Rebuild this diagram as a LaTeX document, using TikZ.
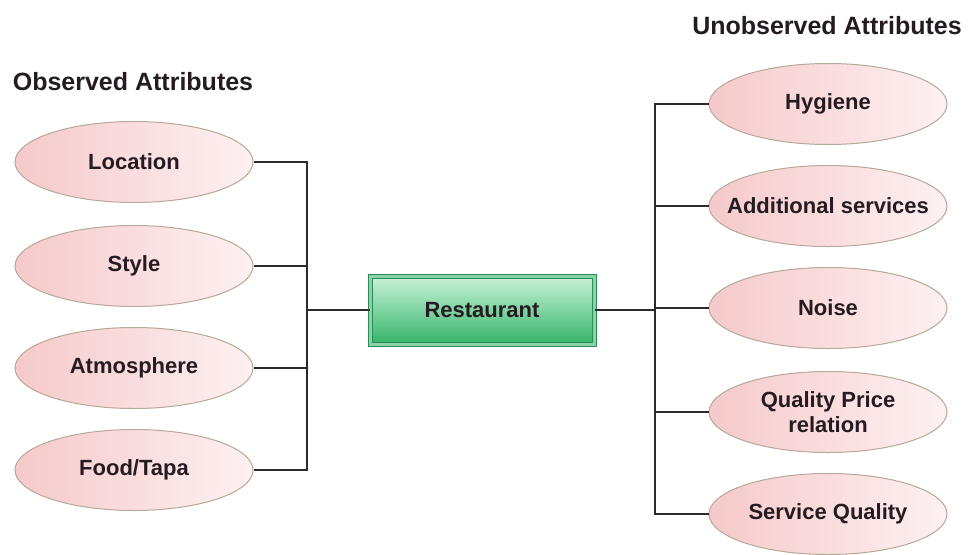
\documentclass[tikz,border=0pt]{standalone}
\usepackage{fontspec}
\setmainfont{Liberation Sans}
\usetikzlibrary{shapes.geometric}
\definecolor{attrline}{HTML}{B8A898}
\definecolor{attrleft}{HTML}{F6C9CB}
\definecolor{attrright}{HTML}{FDF1F1}
\definecolor{boxline}{HTML}{2E8B57}
\definecolor{boxtop}{HTML}{C9F2DA}
\definecolor{boxbot}{HTML}{35B56A}
\definecolor{wire}{HTML}{2B2B2B}
\definecolor{ink}{HTML}{251C22}

\begin{document}
\begin{tikzpicture}[x=1pt,y=-1pt]
\tikzstyle{every node}+=[inner sep=0pt, text=ink, font=\bfseries\fontsize{22}{25}\selectfont]
\tikzstyle{attr}=[ellipse, draw=attrline, line width=1pt, left color=attrleft, right color=attrright, minimum width=238pt, minimum height=81pt, align=center]
\tikzstyle{title}=[font=\bfseries\fontsize{25}{28}\selectfont]
\tikzstyle{link}=[draw=wire, line width=1.4pt]
\useasboundingbox (0,0) rectangle (968,554);
\node[title] (obs) at (133,82) {Observed Attributes};
\node[title] (unobs) at (827,26) {Unobserved Attributes};
\node[attr] (loc) at (134,162) {Location};
\node[attr] (sty) at (134,266) {Style};
\node[attr] (atm) at (134,368) {Atmosphere};
\node[attr] (food) at (134,470) {Food/Tapa};
\node[draw=boxline, line width=1pt, double=boxbot!60!white, double distance=3pt, top color=boxtop, bottom color=boxbot, minimum width=224pt, minimum height=68pt] (rest) at (482,310) {Restaurant};
\node[attr] (hyg) at (828,104) {Hygiene};
\node[attr, inner xsep=-30pt] (add) at (828,206) {Additional services};
\node[attr] (noise) at (828,308) {Noise};
\node[attr] (qpr) at (828,412) {Quality Price\\relation};
\node[attr] (serv) at (828,514) {Service Quality};
\coordinate (lbus) at (307,310);
\coordinate (rbus) at (655,310);
\foreach \n in {loc,sty,atm,food}
  \draw[link] (\n.east) -| (lbus);
\draw[link] (lbus) -- (rest.west);
\draw[link] (rest.east) -- (rbus);
\foreach \n in {hyg,add,noise,qpr,serv}
  \draw[link] (rbus) |- (\n.west);
\end{tikzpicture}
\end{document}
